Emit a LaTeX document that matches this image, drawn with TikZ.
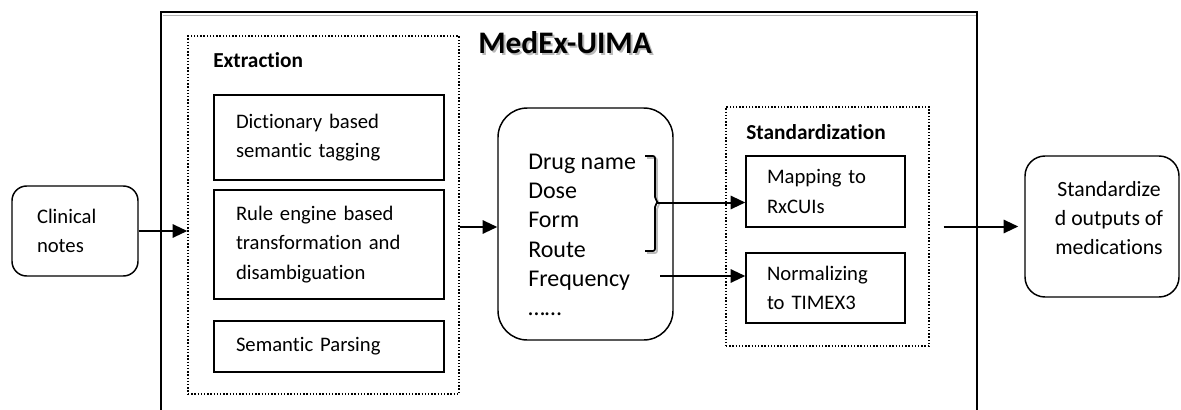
\documentclass[tikz,border=0pt]{standalone}
\usepackage{fontspec}
\setmainfont{Carlito}[Ligatures=NoCommon]
\usetikzlibrary{arrows.meta}
\begin{document}
\begin{tikzpicture}[x=0.75pt,y=-0.75pt,
  txt/.style={font=\fontsize{15.5}{22}\selectfont},
  box/.style={draw, line width=1.1pt, rectangle, txt, align=left, inner ysep=0pt},
  dotbox/.style={draw, line width=1.1pt, dash pattern=on 1.1pt off 1.3pt, rectangle, inner sep=0pt},
  arr/.style={line width=1.5pt, -{Triangle[length=11pt,width=10pt]}},
  lbl/.style={font=\fontsize{16}{22}\selectfont\bfseries, inner sep=0pt, anchor=west}]
\useasboundingbox (0,0) rectangle (1181,410);
\clip (0,0) rectangle (1181,410);
% outer MedEx-UIMA frame
\node[draw, line width=1.8pt, rectangle, inner sep=0pt, minimum width=612pt, minimum height=312pt] (medex) at (569,220) {};
\draw[gray!60, line width=1.3pt] (162.5,15.5) -- (975.5,15.5);
\node[font=\fontsize{23.5}{28}\selectfont\bfseries, text=gray!55, inner sep=0pt] at (567,44.5) {MedEx-UIMA};
\node[font=\fontsize{23.5}{28}\selectfont\bfseries, inner sep=0pt] (title) at (565,42.5) {MedEx-UIMA};
% clinical notes
\node[box, rounded corners=11pt, text width=57pt, inner xsep=18.75pt, minimum height=67.5pt] (clin) at (75,231) {Clinical\\notes};
% extraction
\node[dotbox, minimum width=203.25pt, minimum height=268.5pt] (extr) at (323.5,215) {};
\node[lbl] (extrlbl) at (213,60) {Extraction};
\node[box, text width=139.5pt, inner xsep=16.5pt, minimum height=63.75pt] (dict) at (329,137.5) {Dictionary based\\semantic tagging};
\node[box, text width=139.5pt, inner xsep=16.5pt, minimum height=81.75pt] (rule) at (329,244.5) {Rule engine based\\transformation and\\disambiguation};
\node[box, text width=139.5pt, inner xsep=16.5pt, minimum height=38.25pt] (sem) at (329,346.5) {Semantic Parsing};
% middle rounded box
\node[draw, line width=1.1pt, rectangle, rounded corners=22pt, minimum width=131.25pt, minimum height=174pt, inner sep=0pt] (mid) at (585.5,224) {};
\node[font=\fontsize{18}{22}\selectfont, align=left, inner sep=0pt, anchor=west] (items) at (528,235) {Drug name\\Dose\\Form\\Route\\Frequency\\\dots\dots};
% bracket
\draw[gray!55, line width=1.3pt, rounded corners=1.5pt] (647,158) -- (657,158) -- (657,201) -- (660,204) -- (657,207) -- (657,253) -- (647,253);
\draw[line width=1.3pt, rounded corners=1.5pt] (645,156) -- (655,156) -- (655,199) -- (658,202) -- (655,205) -- (655,251) -- (645,251);
\coordinate (brk) at (657,202.5);
\coordinate (fq) at (660,276);
% standardization
\node[dotbox, minimum width=152.25pt, minimum height=179.25pt] (std) at (827.5,226.5) {};
\node[lbl] (stdlbl) at (746,132) {Standardization};
\node[box, text width=87.75pt, inner xsep=15.75pt, minimum height=53.25pt] (map) at (825.5,191.5) {Mapping to\\RxCUIs};
\node[box, text width=87.75pt, inner xsep=15.75pt, minimum height=52.5pt] (norm) at (825.5,288) {\raisebox{3pt}{\parbox[t]{87.75pt}{Normalizing\\to TIMEX3}}};
% output
\node[draw, line width=1.1pt, rectangle, rounded corners=15pt, minimum width=115.5pt, minimum height=105.75pt, inner sep=0pt] (out) at (1102,226.5) {};
\node[font=\fontsize{16.3}{22}\selectfont, align=center, inner sep=0pt] (outtxt) at (1109,218) {Standardize\\d outputs of\\medications};
% connectors
\draw[arr] (clin.east) -- (clin.east -| extr.west);
\draw[arr] ([yshift=-9pt]extr.east) -- ([yshift=-9pt]extr.east -| mid.west);
\draw[arr] (brk) -- (brk -| map.west);
\draw[arr] (fq) -- (fq -| norm.west);
\draw[arr, shorten >=4.5pt] ([xshift=10.5pt]std.east) -- (std.east -| out.west);
\end{tikzpicture}
\end{document}
